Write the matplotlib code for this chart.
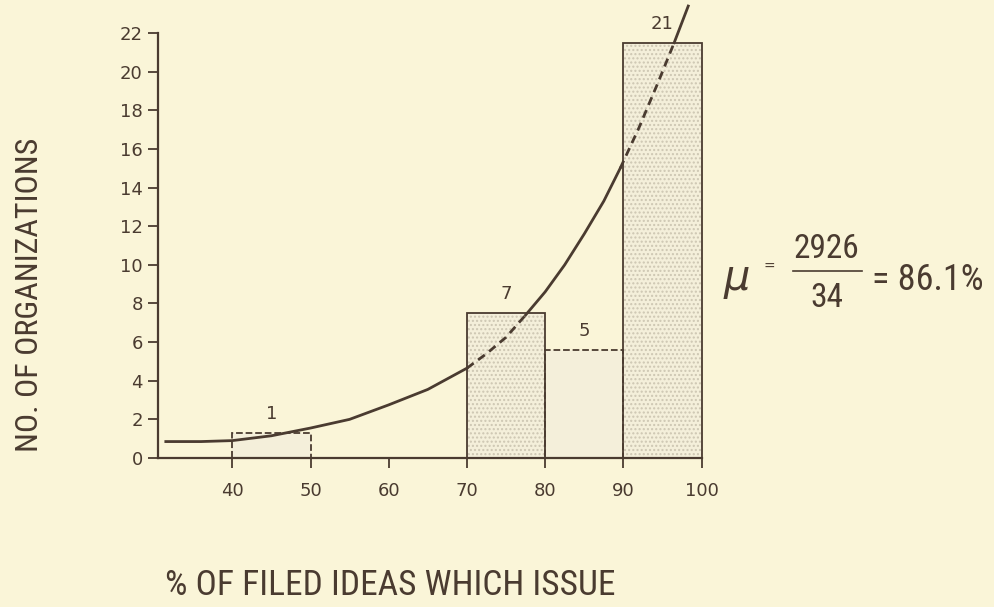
import matplotlib.pyplot as plt
from matplotlib import font_manager
import numpy as np

# histogram bins (% of filed ideas which issue) and counts
bin_left = [40, 70, 80, 90]
bin_width = [10, 10, 10, 10]
counts = [1, 7, 5, 21]
bar_heights = [1.3, 7.5, 5.6, 21.5]   # as drawn in the original
bar_styles = ['--', '-', '--', '-']

# fitted curve, points
curve_x = [31.5, 36, 40, 45, 50, 55, 60, 65, 70, 72.5, 75, 77.5, 80, 82.5, 85, 87.5,
           89.6, 92, 94.5, 96.5, 98.3]
curve_y = [0.85, 0.85, 0.9, 1.15, 1.55, 2.0, 2.75, 3.55, 4.65, 5.4, 6.25, 7.4, 8.6, 10.0,
           11.6, 13.3, 15.0, 17.1, 19.5, 21.5, 23.4]
dashed_ranges = [(70, 77.5), (89.6, 96.5)]

xticks = [40, 50, 60, 70, 80, 90, 100]
yticks = [0, 2, 4, 6, 8, 10, 12, 14, 16, 18, 20, 22]

bg = '#faf5d8'
ink = '#4a3b30'

# narrow typewriter-like face for the labels, if one is installed
names = {f.name for f in font_manager.fontManager.ttflist}
narrow = 'DejaVu Sans'
for cand in ['Liberation Sans Narrow', 'DejaVu Sans Condensed', 'Roboto Condensed',
             'Open Sans Condensed', 'Noto Sans Condensed']:
    if cand in names:
        narrow = cand
        break
k = 1.0 if narrow != 'DejaVu Sans' else 0.8

fig = plt.figure(figsize=(9.95, 6.07), dpi=100, facecolor=bg)
ax = fig.add_axes([0.1588, 0.2455, 0.5502, 0.700])
ax.set_facecolor(bg)

# bars: light fill, stipple, outline
ax.bar(bin_left, bar_heights, width=bin_width, align='edge',
       color='#f4efda', linewidth=0, zorder=1)
for i in [1, 3]:
    ax.bar(bin_left[i], bar_heights[i], width=bin_width[i], align='edge',
           fill=False, hatch='....', edgecolor='#cdc6b2', linewidth=0, zorder=2)
for x0, w, h, ls in zip(bin_left, bin_width, bar_heights, bar_styles):
    ax.bar(x0, h, width=w, align='edge', fill=False, edgecolor=ink,
           linewidth=1.3, linestyle=ls, zorder=3)

for x0, w, h, c in zip(bin_left, bin_width, bar_heights, counts):
    ax.text(x0 + w / 2, h + 0.5, str(c), ha='center', va='bottom',
            fontsize=13, color=ink)

# curve, dashed where it crosses the tall bars
cx = np.array(curve_x)
cy = np.array(curve_y)
edges = [cx[0]]
for a, b in dashed_ranges:
    edges += [a, b]
edges.append(cx[-1])
for j in range(len(edges) - 1):
    lo, hi = edges[j], edges[j + 1]
    m = (cx >= lo) & (cx <= hi)
    ls = (0, (3, 2)) if j % 2 == 1 else '-'
    ax.plot(cx[m], cy[m], color=ink, linewidth=2.0, linestyle=ls,
            clip_on=False, zorder=4, solid_joinstyle='round')

ax.set_xlim(30.5, 100.5)
ax.set_ylim(0, 22)
ax.set_xticks(xticks)
ax.set_yticks(yticks)
ax.tick_params(axis='both', colors=ink, labelcolor=ink, labelsize=13,
               length=7, width=1.3)
ax.tick_params(axis='x', pad=10)
ax.tick_params(axis='y', pad=4)
for s in ['top', 'right']:
    ax.spines[s].set_visible(False)
for s in ['left', 'bottom']:
    ax.spines[s].set_color(ink)
    ax.spines[s].set_linewidth(1.6)
ax.spines['bottom'].set_bounds(30.5, 100)

fig.text(0.030, 0.514, 'NO. OF ORGANIZATIONS', rotation=90, ha='center',
         va='center', fontsize=23 * k, color=ink, family=narrow)
fig.text(0.166, 0.035, '% OF FILED IDEAS WHICH ISSUE', ha='left',
         va='center', fontsize=25.5 * k, color=ink, family=narrow)

# mean formula
fig.text(0.727, 0.539, r'$\mu$', fontsize=30, color=ink, ha='left', va='center')
fig.text(0.767, 0.560, '=', fontsize=10, color=ink, ha='left', va='center')
fig.text(0.831, 0.590, '2926', fontsize=24 * k, color=ink, ha='center', va='center',
         family=narrow)
fig.add_artist(plt.Line2D([0.797, 0.866], [0.553, 0.553], color=ink, linewidth=1.2))
fig.text(0.831, 0.509, '34', fontsize=24 * k, color=ink, ha='center', va='center',
         family=narrow)
fig.text(0.876, 0.539, '= 86.1%', fontsize=26 * k, color=ink, ha='left', va='center',
         family=narrow)

fig.savefig('out.png', dpi=100, facecolor=bg)
